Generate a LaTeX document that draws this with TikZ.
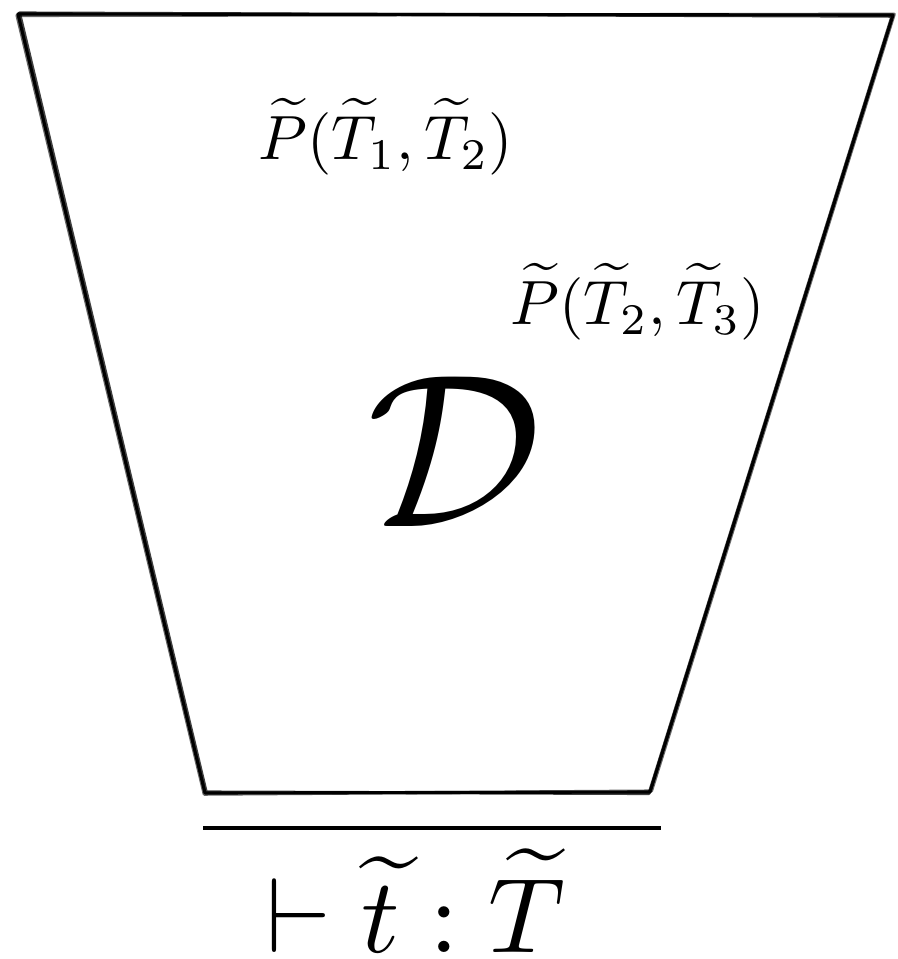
\documentclass[tikz,border=0pt]{standalone}
\usepackage{amsmath,amssymb}
\usepackage{graphicx}
\usetikzlibrary{positioning,calc}

\begin{document}
\begin{tikzpicture}[x=0.16pt, y=-0.16pt,
    trazo/.style={line width=0.5pt, line join=round, line cap=round},
    regla/.style={line width=0.5pt},
    etiqueta/.style={inner sep=0pt}]
  \useasboundingbox (0,0) rectangle (897,959);
  % esquinas del trapecio
  \coordinate (si) at (18,14);
  \coordinate (sd) at (893,15);
  \coordinate (id) at (650,792);
  \coordinate (ii) at (205,793);
  % trazo a mano: varias pasadas
  \foreach \a/\b/\c/\d/\op in {0/0/0/0/1, 1.5/-1/-1/1.2/0.75, -1/1.5/1.2/-0.8/0.6}{
    \draw[trazo, opacity=\op] ($(si)+(\a,\b)$) -- ($(sd)+(\c,\d)$)
      -- ($(id)+(\b,\a)$) -- ($(ii)+(\d,\c)$) -- cycle;
  }
  \node[etiqueta] (p12) at (386,137) {$\widetilde{P}(\widetilde{T}_1,\widetilde{T}_2)$};
  \node[etiqueta] (p23) at (638,302) {$\widetilde{P}(\widetilde{T}_2,\widetilde{T}_3)$};
  \node[etiqueta] (deriv) at (455,452) {\scalebox{3.5}{$\mathcal{D}$}};
  % regla de inferencia
  \coordinate (ri) at (203,828);
  \coordinate (rd) at (661,828);
  \draw[regla] (ri) -- (rd);
  \node[etiqueta] (concl) at (416,901) {\scalebox{1.7}{$\vdash \widetilde{t} : \widetilde{T}$}};
\end{tikzpicture}
\end{document}
